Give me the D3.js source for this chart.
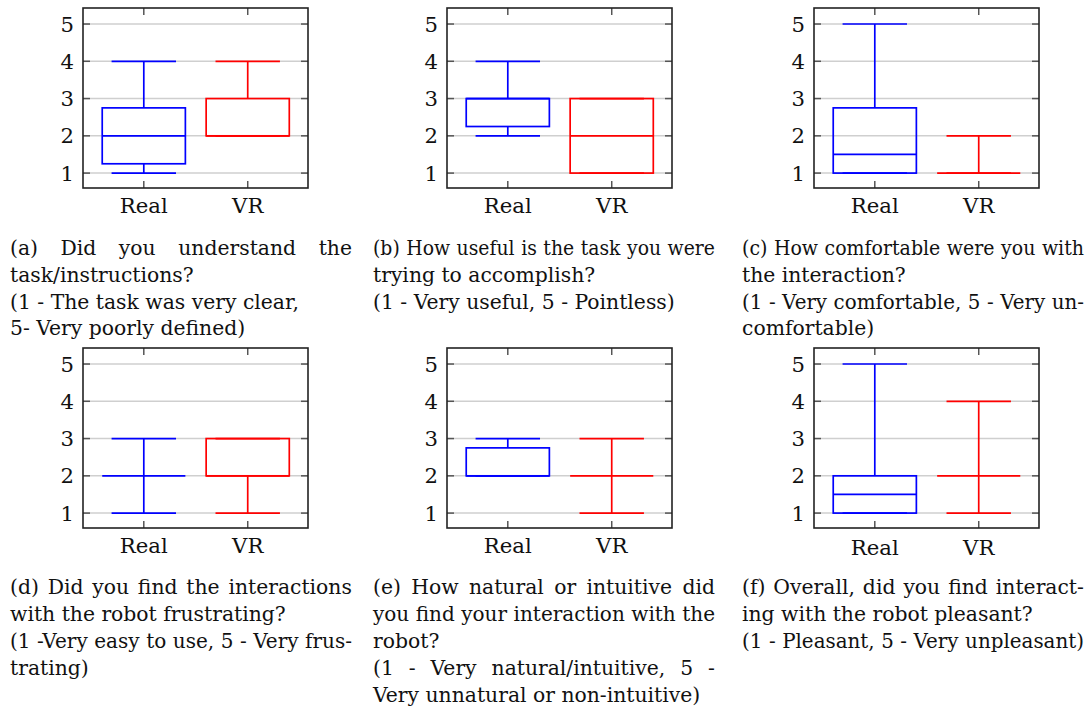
<!DOCTYPE html>
<html><head><meta charset="utf-8">
<script src="https://cdn.jsdelivr.net/npm/d3@7"></script>
<style>html,body{margin:0;padding:0;background:#fff;}svg{display:block;}</style>
</head><body>
<script>
// ---- data ----
const panelIds = ["a","b","c","d","e","f"];
const categories = ["Real","VR"];
const yTicks = [1,2,3,4,5];
const realMin = [1, 2, 1, 1, 2, 1];
const realQ1  = [1.25, 2.25, 1, 2, 2, 1];
const realMed = [2, 3, 1.5, 2, 2, 1.5];
const realQ3  = [2.75, 3, 2.75, 2, 2.75, 2];
const realMax = [4, 4, 5, 3, 3, 5];
const vrMin = [2, 1, 1, 1, 1, 1];
const vrQ1  = [2, 1, 1, 2, 2, 2];
const vrMed = [2, 2, 1, 2, 2, 2];
const vrQ3  = [3, 3, 1, 3, 2, 2];
const vrMax = [4, 3, 2, 3, 3, 4];
const seriesColors = ["#0000ff", "#ff0000"];
// caption lines: [text, justified]
const captionA = [["(a) Did you understand the",1],["task/instructions?",0],["(1 - The task was very clear,",0],["5- Very poorly defined)",0]];
const captionB = [["(b) How useful is the task you were",1],["trying to accomplish?",0],["(1 - Very useful, 5 - Pointless)",0]];
const captionC = [["(c) How comfortable were you with",1],["the interaction?",0],["(1 - Very comfortable, 5 - Very un-",1],["comfortable)",0]];
const captionD = [["(d) Did you find the interactions",1],["with the robot frustrating?",0],["(1 -Very easy to use, 5 - Very frus-",1],["trating)",0]];
const captionE = [["(e) How natural or intuitive did",1],["you find your interaction with the",1],["robot?",0],["(1 - Very natural/intuitive, 5 -",1],["Very unnatural or non-intuitive)",0]];
const captionF = [["(f) Overall, did you find interact-",1],["ing with the robot pleasant?",0],["(1 - Pleasant, 5 - Very unpleasant)",1]];
const captions = [captionA, captionB, captionC, captionD, captionE, captionF];

// ---- layout ----
const W = 1088, H = 713;
const FONT = "'DejaVu Serif', serif";
const frameLefts = [83, 447, 814];
const frameTops = [8, 348];
const frameW = 225, frameH = 180;
const capLefts = [10, 373, 742];
const capWidth = 342;
const capBaselines = [[255, 282, 309, 335], [594, 621, 648, 675, 702]];
const capSize = 20, labSize = 20.5;
const minGap = 6.5;

const svg = d3.select("body").append("svg").attr("width", W).attr("height", H)
  .style("font-family", FONT);

function measure(txt, size) {
  const t = svg.append("text").attr("font-size", size).text(txt);
  const w = t.node().getComputedTextLength();
  t.remove();
  return w;
}
// horizontal compression so DejaVu Serif mimics the narrower Computer Modern
const capSx = 302 / measure("(1 - Very useful, 5 - Pointless)", capSize);
const labSx = 48 / measure("Real", labSize);

function scaledText(parent, x, y, txt, size, sx, anchor) {
  return parent.append("text")
    .attr("transform", `translate(${x},${y}) scale(${sx},1)`)
    .attr("font-size", size).attr("fill", "#111")
    .attr("text-anchor", anchor || "start").text(txt);
}

panelIds.forEach((id, i) => {
  const col = i % 3, row = Math.floor(i / 3);
  const x0 = frameLefts[col], y0 = frameTops[row];
  const g = svg.append("g").attr("transform", `translate(${x0},${y0})`);
  const x = d3.scaleLinear().domain([0.415, 2.58]).range([0, frameW]);
  const y = d3.scaleLinear().domain([0.6, 5.43]).range([frameH, 0]);
  const catPos = d3.scaleOrdinal().domain(categories).range([1, 2]);

  g.selectAll(".grid").data(yTicks).join("line")
    .attr("x1", 0).attr("x2", frameW).attr("y1", d => y(d)).attr("y2", d => y(d))
    .attr("stroke", "#cfcfcf").attr("stroke-width", 1.5);
  const tl = 7;
  g.selectAll(".ytl").data(yTicks).join("line")
    .attr("x1", 0).attr("x2", tl).attr("y1", d => y(d)).attr("y2", d => y(d))
    .attr("stroke", "#555").attr("stroke-width", 1.5);
  g.selectAll(".ytr").data(yTicks).join("line")
    .attr("x1", frameW - tl).attr("x2", frameW).attr("y1", d => y(d)).attr("y2", d => y(d))
    .attr("stroke", "#555").attr("stroke-width", 1.5);
  g.selectAll(".xtb").data(categories).join("line")
    .attr("x1", d => x(catPos(d))).attr("x2", d => x(catPos(d)))
    .attr("y1", frameH - tl).attr("y2", frameH)
    .attr("stroke", "#555").attr("stroke-width", 1.5);
  g.selectAll(".xtt").data(categories).join("line")
    .attr("x1", d => x(catPos(d))).attr("x2", d => x(catPos(d)))
    .attr("y1", 0).attr("y2", tl)
    .attr("stroke", "#555").attr("stroke-width", 1.5);

  yTicks.forEach(d => scaledText(g, -9, y(d) + 7.5, d, labSize, labSx, "end"));
  categories.forEach(d => scaledText(g, x(catPos(d)), frameH + 25 + (i === 5 ? 2 : 0), d, labSize, labSx, "middle"));

  const stats = [
    {cat: "Real", min: realMin[i], q1: realQ1[i], med: realMed[i], q3: realQ3[i], max: realMax[i]},
    {cat: "VR", min: vrMin[i], q1: vrQ1[i], med: vrMed[i], q3: vrQ3[i], max: vrMax[i]}
  ];
  const boxHalf = 0.4, capHalf = 0.31;
  stats.forEach((s, k) => {
    const c = catPos(s.cat);
    const bg = g.append("g").attr("stroke", seriesColors[k]).attr("stroke-width", 1.7).attr("fill", "none");
    bg.append("line").attr("x1", x(c)).attr("x2", x(c)).attr("y1", y(s.min)).attr("y2", y(s.q1));
    bg.append("line").attr("x1", x(c)).attr("x2", x(c)).attr("y1", y(s.q3)).attr("y2", y(s.max));
    [s.min, s.max].forEach(v => bg.append("line")
      .attr("x1", x(c - capHalf)).attr("x2", x(c + capHalf)).attr("y1", y(v)).attr("y2", y(v)));
    bg.append("rect").attr("x", x(c - boxHalf)).attr("width", x(c + boxHalf) - x(c - boxHalf))
      .attr("y", y(s.q3)).attr("height", Math.max(0, y(s.q1) - y(s.q3)));
    bg.append("line").attr("x1", x(c - boxHalf)).attr("x2", x(c + boxHalf))
      .attr("y1", y(s.med)).attr("y2", y(s.med));
  });

  g.append("rect").attr("x", 0).attr("y", 0).attr("width", frameW).attr("height", frameH)
    .attr("fill", "none").attr("stroke", "#222").attr("stroke-width", 1.6);

  const cx = capLefts[col];
  const cg = svg.append("g");
  captions[i].forEach((ln, li) => {
    const [txt, just] = ln;
    const by = capBaselines[row][li];
    if (!just) {
      scaledText(cg, cx, by, txt, capSize, capSx);
    } else {
      const words = txt.split(" ");
      const raw = words.map(w => measure(w, capSize));
      let sx = capSx;
      const nGaps = words.length - 1;
      if (capWidth - d3.sum(raw) * sx < minGap * nGaps) {
        sx = (capWidth - minGap * nGaps) / d3.sum(raw);
      }
      const widths = raw.map(w => w * sx);
      const gap = (capWidth - d3.sum(widths)) / nGaps;
      let xx = cx;
      words.forEach((w, wi) => { scaledText(cg, xx, by, w, capSize, sx); xx += widths[wi] + gap; });
    }
  });
});
</script>
</body></html>
